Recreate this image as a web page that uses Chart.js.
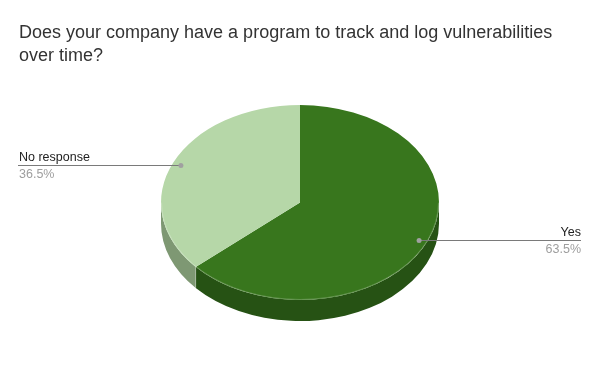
<!DOCTYPE html>
<html>
<head>
<meta charset="utf-8">
<script src="https://cdn.jsdelivr.net/npm/chart.js@4/dist/chart.umd.min.js"></script>
<style>
  html, body { margin: 0; padding: 0; background: #fff; }
  #wrap { width: 600px; height: 371px; position: relative; }
</style>
</head>
<body>
<div id="wrap"><canvas id="chart"></canvas></div>
<script>
// Chart data
const titleLines = ['Does your company have a program to track and log vulnerabilities', 'over time?'];
const categories = ['Yes', 'No response'];
const shares = [63.5, 36.5];
const topColors = ['#38761d', '#b6d7a8'];
const sideColors = ['#265214', '#7e9873'];

const TILT = 0.7014;   // vertical squash of the pie
const DEPTH = 21;      // thickness of the 3d edge, px
const FONT = '"Liberation Sans", Arial, sans-serif';

// 3d pie: draws the side walls, squashes the top, then adds title + callouts
const pie3d = {
  id: 'pie3d',
  beforeDatasetsDraw(chart) {
    const ctx = chart.ctx;
    const arcs = chart.getDatasetMeta(0).data;
    const { x, y, outerRadius: r } = arcs[0];
    const ry = r * TILT;

    // side walls (only the front half, canvas angles 0..PI)
    arcs.forEach((arc, i) => {
      for (let k = -1; k <= 1; k++) {
        const a0 = Math.max(arc.startAngle + k * 2 * Math.PI, 0);
        const a1 = Math.min(arc.endAngle + k * 2 * Math.PI, Math.PI);
        if (a1 <= a0) continue;
        ctx.beginPath();
        ctx.ellipse(x, y, r, ry, 0, a0, a1);
        ctx.ellipse(x, y + DEPTH, r, ry, 0, a1, a0, true);
        ctx.closePath();
        ctx.fillStyle = sideColors[i];
        ctx.fill();
      }
    });

    // faint seam where slices meet on the side
    arcs.forEach(arc => {
      const a = ((arc.startAngle % (2 * Math.PI)) + 2 * Math.PI) % (2 * Math.PI);
      if (a > 0 && a < Math.PI) {
        const sx = x + Math.cos(a) * r, sy = y + Math.sin(a) * ry;
        ctx.beginPath();
        ctx.moveTo(sx, sy);
        ctx.lineTo(sx, sy + DEPTH);
        ctx.strokeStyle = 'rgba(255,255,255,0.25)';
        ctx.lineWidth = 1;
        ctx.stroke();
      }
    });

    ctx.save();
    ctx.translate(0, y);
    ctx.scale(1, TILT);
    ctx.translate(0, -y);
  },
  afterDatasetsDraw(chart) {
    const ctx = chart.ctx;
    ctx.restore();
    const arcs = chart.getDatasetMeta(0).data;
    const { x, y, outerRadius: r } = arcs[0];
    const ry = r * TILT;

    // light rim along the front edge
    ctx.beginPath();
    ctx.ellipse(x, y, r - 0.5, ry - 0.5, 0, 0, Math.PI);
    ctx.strokeStyle = 'rgba(255,255,255,0.22)';
    ctx.lineWidth = 1;
    ctx.stroke();

    const total = shares.reduce((a, b) => a + b, 0);
    const W = chart.width;
    arcs.forEach((arc, i) => {
      const mid = (arc.startAngle + arc.endAngle) / 2;
      const px = x + Math.cos(mid) * r * 0.94;
      const py = y + Math.sin(mid) * ry * 0.94;
      const left = Math.cos(mid) < 0;
      const x0 = left ? 18 : px;
      const x1 = left ? px : W - 19;

      ctx.beginPath();
      ctx.moveTo(x0, Math.round(py) + 0.5);
      ctx.lineTo(x1, Math.round(py) + 0.5);
      ctx.strokeStyle = '#7a7a7a';
      ctx.lineWidth = 1;
      ctx.stroke();

      ctx.beginPath();
      ctx.arc(px, Math.round(py) + 0.5, 2.5, 0, 2 * Math.PI);
      ctx.fillStyle = '#a0a0a0';
      ctx.fill();

      ctx.textAlign = left ? 'left' : 'right';
      ctx.textBaseline = 'alphabetic';
      ctx.font = '12.5px ' + FONT;
      ctx.fillStyle = '#222222';
      ctx.fillText(categories[i], left ? 19 : W - 19, Math.round(py) - 4);
      ctx.fillStyle = '#9e9e9e';
      ctx.fillText((shares[i] / total * 100).toFixed(1) + '%', left ? 19 : W - 19, Math.round(py) + 13);
    });
  },
  afterDraw(chart) {
    const ctx = chart.ctx;
    ctx.save();
    ctx.font = '18px ' + FONT;
    ctx.fillStyle = '#333333';
    ctx.textAlign = 'left';
    ctx.textBaseline = 'alphabetic';
    titleLines.forEach((t, i) => ctx.fillText(t, 19, 37.5 + i * 23));
    ctx.restore();
  }
};

new Chart(document.getElementById('chart'), {
  type: 'pie',
  data: {
    labels: categories,
    datasets: [{
      data: shares,
      backgroundColor: topColors,
      borderWidth: 0
    }]
  },
  options: {
    responsive: true,
    maintainAspectRatio: false,
    animation: false,
    layout: { padding: { left: 161, right: 161, top: 63.5, bottom: 29.5 } },
    plugins: {
      legend: { display: false },
      tooltip: { enabled: false },
      title: { display: false }
    }
  },
  plugins: [pie3d]
});
</script>
</body>
</html>
